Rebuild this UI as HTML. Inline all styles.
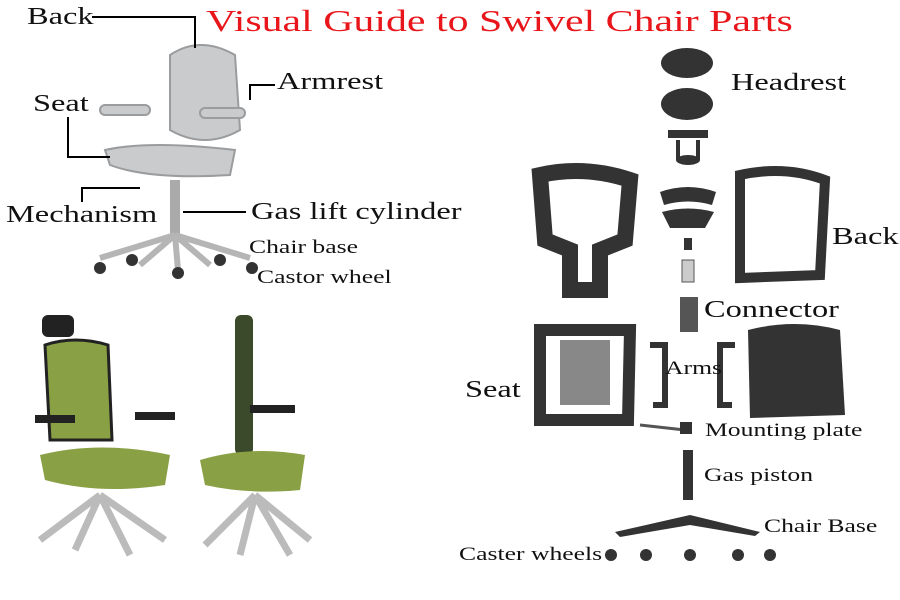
<!DOCTYPE html>
<html><head><meta charset="utf-8"><style>
body{margin:0;width:900px;height:600px;background:#fff;position:relative;overflow:hidden;font-family:"Liberation Serif",serif;}
.t{position:absolute;color:#111;white-space:nowrap;line-height:1;transform:scaleX(1.35);transform-origin:0 0;}
</style></head><body>
<svg width="900" height="600" style="position:absolute;left:0;top:0">
<g fill="#c9cbcc" stroke="#9a9c9e" stroke-width="2">
<path d="M170 55 Q200 35 235 55 L240 130 Q205 150 170 130 Z"/>
<path d="M105 150 Q150 140 235 150 L230 175 Q150 180 110 165 Z"/>
<rect x="100" y="105" width="50" height="10" rx="5"/>
<rect x="200" y="108" width="45" height="10" rx="5"/>
</g>
<rect x="170" y="180" width="10" height="55" fill="#aaa"/>
<path d="M175 235 L100 258 M175 235 L140 265 M175 235 L210 265 M175 235 L250 258 M175 235 L178 270" stroke="#b5b5b5" stroke-width="6" fill="none"/>
<g fill="#333"><circle cx="100" cy="268" r="6"/><circle cx="132" cy="260" r="6"/><circle cx="178" cy="273" r="6"/><circle cx="220" cy="260" r="6"/><circle cx="252" cy="268" r="6"/></g>
<path d="M92 17 H195 V48" stroke="#000" stroke-width="2" fill="none"/>
<path d="M275 85 H250 V100" stroke="#000" stroke-width="2" fill="none"/>
<path d="M68 117 V157 H110" stroke="#000" stroke-width="2" fill="none"/>
<path d="M82 202 V188 H140" stroke="#000" stroke-width="2" fill="none"/>
<path d="M246 212 H183" stroke="#000" stroke-width="2" fill="none"/>
<g>
<rect x="42" y="315" width="32" height="22" rx="6" fill="#222"/>
<path d="M45 345 Q75 335 108 345 L112 440 L50 440 Z" fill="#8aa045" stroke="#222" stroke-width="3"/>
<path d="M40 455 Q100 440 170 455 L165 485 Q100 495 45 480 Z" fill="#8aa045"/>
<rect x="35" y="415" width="40" height="8" fill="#222"/><rect x="135" y="412" width="40" height="8" fill="#222"/>
<path d="M100 495 L40 540 M100 495 L75 550 M100 495 L130 555 M100 495 L165 540" stroke="#bbb" stroke-width="7"/>
<rect x="235" y="315" width="18" height="140" rx="6" fill="#3a4a2a"/>
<path d="M200 460 Q250 445 305 455 L300 490 Q250 495 205 485Z" fill="#8aa045"/>
<rect x="250" y="405" width="45" height="8" fill="#222"/>
<path d="M255 495 L205 545 M255 495 L240 555 M255 495 L290 555 M255 495 L310 540" stroke="#bbb" stroke-width="7"/>
</g>
<g fill="#333">
<ellipse cx="687" cy="63" rx="26" ry="15"/><ellipse cx="687" cy="104" rx="26" ry="16"/>
<path d="M668 130 h40 v8 h-40z M676 140 v20 h4 v-20z M696 140 v20 h4 v-20z"/><ellipse cx="688" cy="160" rx="12" ry="5"/>
<path d="M540 175 Q585 165 630 180 L625 240 L600 250 L600 290 L570 290 L570 250 L545 240 Z" fill="none" stroke="#333" stroke-width="16"/>
<path d="M740 175 Q785 165 825 180 L820 275 L740 278 Z" fill="none" stroke="#333" stroke-width="10"/>
<path d="M660 192 Q688 182 716 192 L712 205 Q688 198 664 205Z"/><path d="M662 212 Q688 205 714 212 L705 228 L670 228Z"/>
<rect x="684" y="238" width="8" height="12"/>
<rect x="682" y="260" width="12" height="22" fill="#ccc" stroke="#555"/>
<rect x="680" y="297" width="18" height="35" fill="#555"/>
<path d="M540 330 L630 330 L628 420 L540 420 Z" fill="none" stroke="#333" stroke-width="12"/>
<rect x="560" y="340" width="50" height="65" fill="#888"/>
<path d="M650 345 h15 v60 h-12" fill="none" stroke="#333" stroke-width="6"/>
<path d="M735 345 h-15 v60 h12" fill="none" stroke="#333" stroke-width="6"/>
<path d="M748 330 Q795 318 840 330 L845 415 L750 418 Z"/>
<path d="M640 425 L685 430" stroke="#555" stroke-width="3"/><rect x="680" y="422" width="12" height="12"/>
<rect x="683" y="450" width="10" height="50"/>
<path d="M615 532 L690 515 L760 532 L755 536 L690 525 L620 537 Z"/>
<circle cx="611" cy="555" r="6"/><circle cx="646" cy="555" r="6"/><circle cx="690" cy="555" r="6"/><circle cx="738" cy="555" r="6"/><circle cx="770" cy="555" r="6"/>
</g>
</svg>
<div class="t" style="left:206px;top:5px;font-size:31px;color:#e8161b">Visual Guide to Swivel Chair Parts</div>
<div class="t" style="left:27px;top:5px;font-size:24px">Back</div>
<div class="t" style="left:277px;top:70px;font-size:24px">Armrest</div>
<div class="t" style="left:33px;top:92px;font-size:24px">Seat</div>
<div class="t" style="left:6px;top:203px;font-size:24px">Mechanism</div>
<div class="t" style="left:251px;top:200px;font-size:24px">Gas lift cylinder</div>
<div class="t" style="left:249px;top:238px;font-size:19px">Chair base</div>
<div class="t" style="left:257px;top:268px;font-size:19px">Castor wheel</div>
<div class="t" style="left:731px;top:71px;font-size:24px">Headrest</div>
<div class="t" style="left:832px;top:225px;font-size:24px">Back</div>
<div class="t" style="left:704px;top:298px;font-size:24px">Connector</div>
<div class="t" style="left:465px;top:378px;font-size:24px">Seat</div>
<div class="t" style="left:665px;top:359px;font-size:19px">Arms</div>
<div class="t" style="left:705px;top:421px;font-size:19px">Mounting plate</div>
<div class="t" style="left:704px;top:466px;font-size:19px">Gas piston</div>
<div class="t" style="left:764px;top:517px;font-size:19px">Chair Base</div>
<div class="t" style="left:459px;top:545px;font-size:19px">Caster wheels</div>
</body></html>
